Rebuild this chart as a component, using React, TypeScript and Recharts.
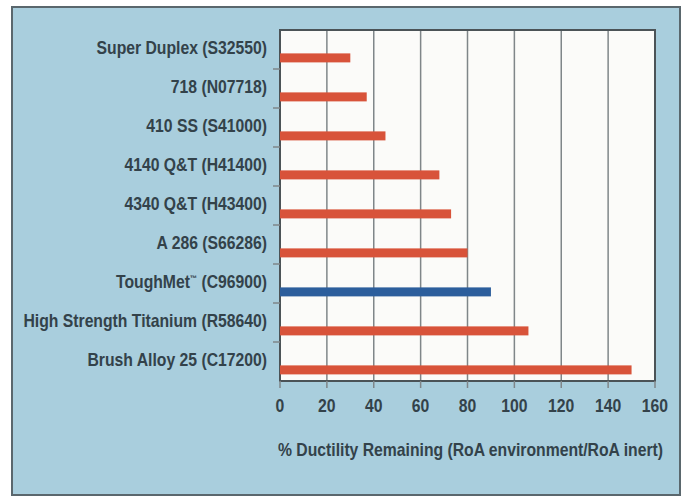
import React from "react";
import { BarChart, Bar, XAxis, YAxis, CartesianGrid, ReferenceArea } from "recharts";

const categories = [
  "Super Duplex (S32550)",
  "718 (N07718)",
  "410 SS (S41000)",
  "4140 Q&T (H41400)",
  "4340 Q&T (H43400)",
  "A 286 (S66286)",
  "ToughMet\u2122 (C96900)",
  "High Strength Titanium (R58640)",
  "Brush Alloy 25 (C17200)",
];
const ductility = [30, 37, 45, 68, 73, 80, 90, 106, 150];
const xTicks = [0, 20, 40, 60, 80, 100, 120, 140, 160];
const highlight = "ToughMet\u2122 (C96900)";
const axisTitle = "% Ductility Remaining (RoA environment/RoA inert)";

const W = 688;
const H = 499;
const MARGIN = { top: 30, right: 33, bottom: 38, left: 0 };
const X_AXIS_H = 80;
const Y_AXIS_W = 280;
const PLOT_H = H - MARGIN.top - MARGIN.bottom - X_AXIS_H;
const BAND = PLOT_H / categories.length;

const FONT = "'Liberation Sans', Arial, sans-serif";
const SX = 0.9;
const TEXT = "#33424a";
const RED = "#d8533a";
const BLUE = "#2c5e9c";
const GRID = "#7f8689";
const FRAME = "#4b5357";

const data = categories.map((name, i) => ({ name, value: ductility[i] }));

function renderLabel(s: string) {
  const parts = String(s).split("\u2122");
  if (parts.length < 2) return s;
  return (
    <>
      {parts[0]}
      <tspan fontSize="0.45em" dy="-0.9em">{"\u2122"}</tspan>
      <tspan dy="0.4em">{parts[1]}</tspan>
    </>
  );
}

function NarrowText(props: any) {
  const { x, y, anchor, size, children } = props;
  return (
    <g transform={`translate(${x},${y}) scale(${SX},1)`}>
      <text
        x={0}
        y={0}
        dy="0.35em"
        textAnchor={anchor}
        fill={TEXT}
        fontFamily={FONT}
        fontWeight="bold"
        fontSize={size}
      >
        {children}
      </text>
    </g>
  );
}

function CatTick(props: any) {
  const { x, y, payload, index } = props;
  return (
    <g>
      <NarrowText x={x - 13} y={y - 1.5} anchor="end" size={17.5}>
        {renderLabel(payload.value)}
      </NarrowText>
      {index < categories.length - 1 && (
        <line x1={x - 7} x2={x} y1={y + BAND / 2} y2={y + BAND / 2} stroke={GRID} strokeWidth={1.5} />
      )}
    </g>
  );
}

function NumTick(props: any) {
  const { x, y, payload } = props;
  return (
    <NarrowText x={x} y={y + 6} anchor="middle" size={17.5}>
      {payload.value}
    </NarrowText>
  );
}

function TitleLabel(props: any) {
  const vb = props.viewBox || {};
  return (
    <NarrowText x={vb.x + vb.width / 2 + 3} y={vb.y + 69} anchor="middle" size={17.5}>
      {axisTitle}
    </NarrowText>
  );
}

function BarShape(props: any) {
  const { x, y, width, height, payload } = props;
  const offset = BAND * 0.215;
  return (
    <rect
      x={x}
      y={y + offset}
      width={width}
      height={height}
      fill={payload.name === highlight ? BLUE : RED}
    />
  );
}

export default function App() {
  return (
    <div style={{ position: "absolute", left: 0, top: 0, width: W, height: H, background: "#ffffff" }}>
      <div
        style={{
          position: "absolute",
          left: 11,
          top: 6,
          width: 670,
          height: 490,
          background: "#a9cedd",
          border: "2px solid #5a676d",
          boxSizing: "border-box",
        }}
      />
      <div style={{ position: "absolute", left: 0, top: 0 }}>
        <BarChart
          width={W}
          height={H}
          layout="vertical"
          data={data}
          margin={MARGIN}
          barCategoryGap={0}
        >
          <CartesianGrid horizontal={false} stroke={GRID} strokeWidth={1.5} fill="#fbfbf9" />
          <XAxis
            type="number"
            domain={[0, 160]}
            ticks={xTicks}
            interval={0}
            height={X_AXIS_H}
            axisLine={false}
            tickSize={7}
            tickMargin={12}
            tickLine={{ stroke: GRID, strokeWidth: 1.5 }}
            tick={<NumTick />}
            label={<TitleLabel />}
          />
          <YAxis
            type="category"
            dataKey="name"
            width={Y_AXIS_W}
            interval={0}
            axisLine={false}
            tickLine={false}
            tickSize={0}
            tickMargin={0}
            tick={<CatTick />}
          />
          <Bar dataKey="value" barSize={9} isAnimationActive={false} shape={BarShape} />
          <ReferenceArea x1={0} x2={160} fill="none" stroke={FRAME} strokeWidth={2} ifOverflow="visible" />
        </BarChart>
      </div>
    </div>
  );
}
